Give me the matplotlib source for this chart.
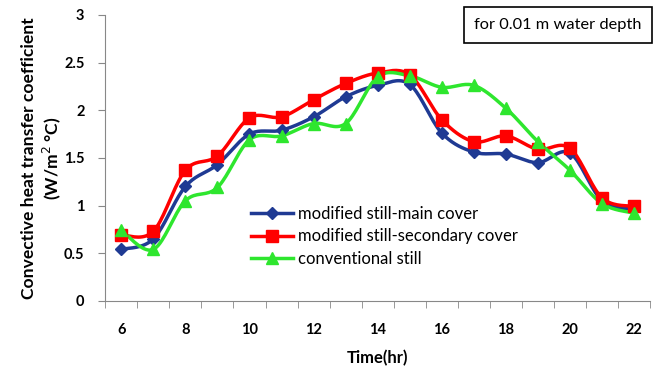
import numpy as np
import matplotlib
matplotlib.use("Agg")
import matplotlib.pyplot as plt

plt.rcParams['font.family'] = ['Lato', 'DejaVu Sans']

hours = [6, 7, 8, 9, 10, 11, 12, 13, 14, 15, 16, 17, 18, 19, 20, 21, 22]
mainCover = [0.54, 0.65, 1.20, 1.43, 1.75, 1.79, 1.93, 2.14, 2.26, 2.27,
             1.76, 1.56, 1.54, 1.45, 1.55, 1.05, 0.96]
secondaryCover = [0.69, 0.73, 1.37, 1.52, 1.92, 1.93, 2.11, 2.28, 2.39, 2.37,
                  1.90, 1.67, 1.73, 1.59, 1.60, 1.08, 0.99]
conventional = [0.74, 0.54, 1.05, 1.19, 1.69, 1.73, 1.86, 1.86, 2.35, 2.36,
                2.24, 2.26, 2.02, 1.67, 1.37, 1.02, 0.92]


'''Excel-like smoothed line (Catmull-Rom bezier through the points)'''
def smooth(x, y, n=20):
    x = np.asarray(x, float)
    y = np.asarray(y, float)
    xs, ys = [x[0]], [y[0]]
    for i in range(len(x) - 1):
        x0, y0 = (x[i - 1], y[i - 1]) if i > 0 else (x[i], y[i])
        x3, y3 = (x[i + 2], y[i + 2]) if i + 2 < len(x) else (x[i + 1], y[i + 1])
        c1x = x[i] + (x[i + 1] - x0) / 6
        c1y = y[i] + (y[i + 1] - y0) / 6
        c2x = x[i + 1] - (x3 - x[i]) / 6
        c2y = y[i + 1] - (y3 - y[i]) / 6
        t = np.linspace(0, 1, n)[1:]
        a, b, c, d = (1 - t) ** 3, 3 * t * (1 - t) ** 2, 3 * t ** 2 * (1 - t), t ** 3
        xs.extend(a * x[i] + b * c1x + c * c2x + d * x[i + 1])
        ys.extend(a * y[i] + b * c1y + c * c2y + d * y[i + 1])
    return xs, ys


fig = plt.figure(figsize=(6.58, 3.71), dpi=100)
ax = fig.add_axes([0.160, 0.189, 0.828, 0.771])

series = [
    (mainCover, '#1F3A93', 'D', 6, 'modified still-main cover'),
    (secondaryCover, '#FF0000', 's', 8.5, 'modified still-secondary cover'),
    (conventional, '#2EE62E', '^', 8.5, 'conventional still'),
]
for vals, col, mk, ms, lab in series:
    sx, sy = smooth(hours, vals)
    ax.plot(sx, sy, color=col, lw=2.5, zorder=2)
    ax.plot(hours, vals, linestyle='none', marker=mk, ms=ms, color=col,
            markeredgecolor=col, zorder=3)
    ax.plot([], [], color=col, lw=2.5, marker=mk, ms=ms, label=lab)

ax.set_xlim(5.5, 22.5)
ax.set_ylim(0, 3)
ax.set_xticks(range(6, 23, 2))
ax.set_xticks(np.arange(5.5, 23, 1), minor=True)
ax.tick_params(axis='x', which='major', length=0, pad=16)
ax.tick_params(axis='x', which='minor', length=5, color='#888888', direction='out')
ax.set_yticks(np.arange(0, 3.01, 0.5))
ax.set_yticklabels(['0', '0.5', '1', '1.5', '2', '2.5', '3'])
ax.tick_params(axis='y', length=5, color='#888888', pad=10)
for lbl in ax.get_xticklabels() + ax.get_yticklabels():
    lbl.set_fontweight('bold')
    lbl.set_fontsize(10.5)

for side in ['top', 'right']:
    ax.spines[side].set_visible(False)
for side in ['left', 'bottom']:
    ax.spines[side].set_color('#888888')

ax.set_xlabel('Time(hr)', fontsize=12, fontweight='bold', labelpad=9)
ax.set_ylabel('Convective heat transfer coefficient\n(W/m$^2$ °C)', fontsize=12.6,
              fontweight='bold', labelpad=1, linespacing=1.15)

ax.legend(loc='lower left', bbox_to_anchor=(0.255, 0.095), frameon=False, fontsize=12,
          handlelength=2.5, handletextpad=0.35, labelspacing=0.4, borderaxespad=0)

fig.text(0.848, 0.933, 'for 0.01 m water depth', ha='center', va='center', fontsize=11.8,
         bbox=dict(boxstyle='square,pad=0.65', facecolor='white', edgecolor='black', lw=1.2))

fig.savefig('out.png', dpi=100)
